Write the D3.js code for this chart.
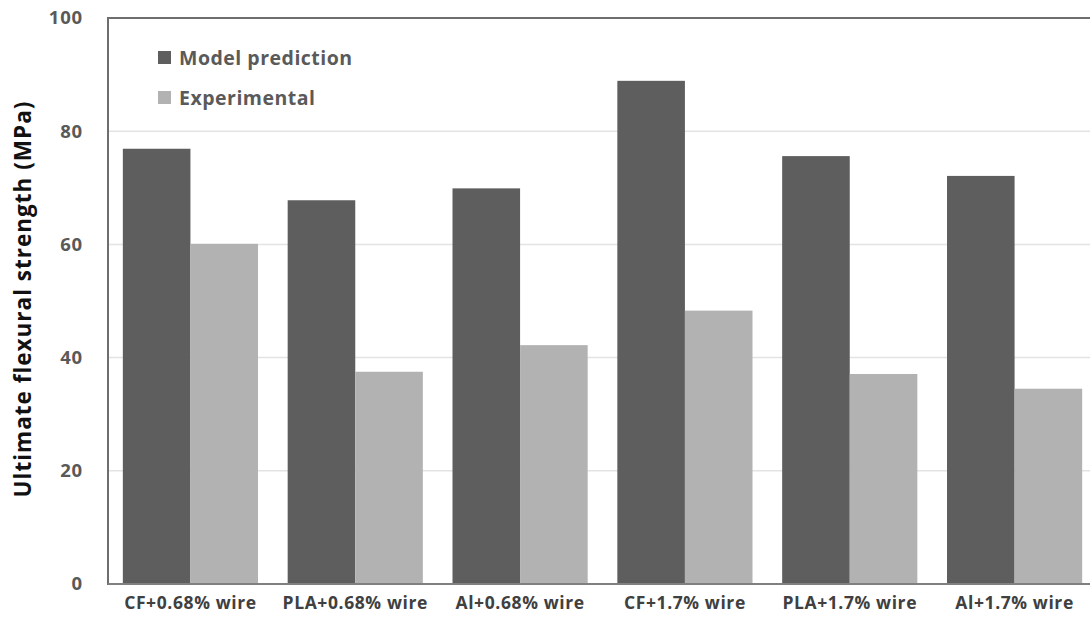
<!DOCTYPE html>
<html><head><meta charset="utf-8">
<script src="https://cdn.jsdelivr.net/npm/d3@7"></script>
<style>body{margin:0;background:#fff}svg{display:block}</style>
</head><body>
<script>
const categories = ["CF+0.68% wire","PLA+0.68% wire","Al+0.68% wire","CF+1.7% wire","PLA+1.7% wire","Al+1.7% wire"];
const seriesNames = ["Model prediction","Experimental"];
const modelValues = [76.9, 67.8, 69.9, 88.9, 75.6, 72.1];
const expValues = [60.1, 37.5, 42.2, 48.3, 37.1, 34.5];
const yTicks = [0,20,40,60,80,100];
const colors = ["#5e5e5e","#b2b2b2"];

const W=1090,H=619;
const svg=d3.select("body").append("svg").attr("width",W).attr("height",H);
const pLeft=108,pRight=1097,pTop=18,pBottom=584;
const font="'Open Sans', 'DejaVu Sans', sans-serif";

const x=d3.scaleBand().domain(categories).range([pLeft,pRight]).paddingInner(0.18).paddingOuter(0.09);
const xs=d3.scaleBand().domain(seriesNames).range([0,x.bandwidth()]);
const y=d3.scaleLinear().domain([0,100]).range([pBottom,pTop]);

// gridlines
svg.append("g").selectAll("line").data(yTicks.filter(t=>t>0&&t<100)).join("line")
 .attr("x1",pLeft).attr("x2",W).attr("y1",d=>y(d)).attr("y2",d=>y(d))
 .attr("stroke","#e3e3e3").attr("stroke-width",1.5);

// bars
const data=categories.map((c,i)=>({c,vals:[modelValues[i],expValues[i]]}));
const g=svg.append("g").selectAll("g").data(data).join("g").attr("transform",d=>`translate(${x(d.c)},0)`);
g.selectAll("rect").data(d=>d.vals.map((v,j)=>({v,s:seriesNames[j],j}))).join("rect")
 .attr("x",d=>xs(d.s)).attr("width",xs.bandwidth())
 .attr("y",d=>y(d.v)).attr("height",d=>y(0)-y(d.v))
 .attr("fill",d=>colors[d.j]);

// frame lines
svg.append("line").attr("x1",pLeft).attr("x2",W).attr("y1",y(100)).attr("y2",y(100)).attr("stroke","#6e6e6e").attr("stroke-width",2);
svg.append("line").attr("x1",pLeft).attr("x2",pLeft).attr("y1",y(100)-1).attr("y2",y(0)+1).attr("stroke","#6e6e6e").attr("stroke-width",2);
svg.append("line").attr("x1",pLeft).attr("x2",W).attr("y1",y(0)).attr("y2",y(0)).attr("stroke","#808080").attr("stroke-width",2);

// y axis labels
const yAxis=d3.axisLeft(y).tickValues(yTicks).tickSize(0).tickPadding(25);
const ya=svg.append("g").attr("transform",`translate(${pLeft},0)`).call(yAxis);
ya.select(".domain").remove();
ya.selectAll("text").attr("font-family",font).attr("font-size",18.5).attr("letter-spacing",0.8).attr("font-weight","bold").attr("fill","#595959");

// x axis labels
const xAxis=d3.axisBottom(x).tickSize(0).tickPadding(13);
const xa=svg.append("g").attr("transform",`translate(0,${pBottom})`).call(xAxis);
xa.select(".domain").remove();
xa.selectAll("text").attr("font-family",font).attr("font-size",17.5).attr("letter-spacing",0.6).attr("font-weight","bold").attr("fill","#404040");

// y title
svg.append("text").attr("transform",`translate(31,299) rotate(-90)`).attr("text-anchor","middle")
 .attr("font-family",font).attr("font-size",22.5).attr("letter-spacing",1).attr("font-weight","bold").attr("fill","#111")
 .text("Ultimate flexural strength (MPa)");

// legend
const lg=svg.append("g").selectAll("g").data(seriesNames).join("g").attr("transform",(d,i)=>`translate(158,${51+i*40})`);
lg.append("rect").attr("width",13).attr("height",13).attr("fill",(d,i)=>colors[i]);
lg.append("text").attr("x",21).attr("y",13.5).attr("font-family",font).attr("font-size",19.5).attr("letter-spacing",0.5).attr("font-weight","bold").attr("fill","#5a5a5a").text(d=>d);
</script>
</body></html>
